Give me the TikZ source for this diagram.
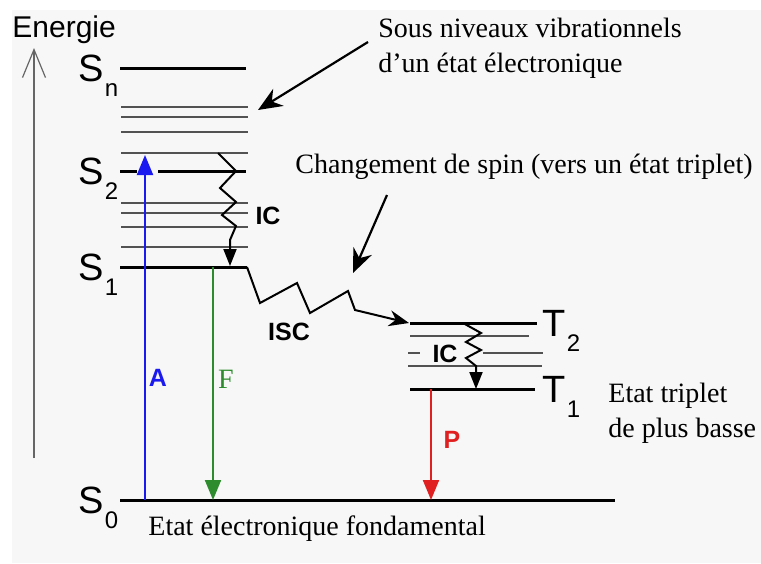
\documentclass[tikz,border=0pt]{standalone}
\usepackage{fontspec}
\setmainfont{Liberation Serif}
\setsansfont{Liberation Sans}
\usepackage{xcolor}
\usetikzlibrary{arrows.meta}
\definecolor{bgc}{HTML}{F7F7F7}
\definecolor{absblue}{HTML}{1A1AF0}
\definecolor{flgreen}{HTML}{2E8B2E}
\definecolor{phred}{HTML}{E02020}
\newcommand{\lvlname}[2]{#1\kern0.6pt\raisebox{-7.5pt}{\fontsize{12}{12}\selectfont #2}}

\begin{document}
\begin{tikzpicture}[
  x=0.5pt, y=-0.5pt,
  lvl/.style={line width=1.5pt, black},
  vib/.style={line width=1.35pt, black!68},
  lab/.style={font=\sffamily\fontsize{19}{19}\selectfont, inner sep=0pt, anchor=base west},
  trans/.style={-{Triangle[length=10pt,width=8pt]}, line width=1pt},
  wavy/.style={-{Triangle[length=8.5pt,width=6.5pt]}, line width=1pt},
  tag/.style={font=\sffamily\bfseries\fontsize{12.5}{12.5}\selectfont, inner sep=0pt},
  note/.style={font=\fontsize{14}{17.5}\selectfont, align=left, inner sep=0pt, anchor=base west},
  call/.style={-{Stealth[length=12pt,width=10pt]}, line width=1.1pt},
]
\useasboundingbox (0,0) rectangle (761,563);
\fill[bgc] (12,10) rectangle (761,563);

% energy axis
\node[font=\sffamily\fontsize{15}{15}\selectfont, inner sep=0pt, anchor=base west] (en) at (12,37) {Energie};
\coordinate (axbot) at (34,458); \coordinate (axtop) at (34,48);
\draw[black!60, line width=0.6pt, -{Straight Barb[length=14pt,width=11.5pt]}] (axbot) -- (axtop);

% singlet levels
\draw[lvl] (120,68) -- (246,68);
\foreach \y in {107,117,132,153,203,213,227,247} \draw[vib] (121,\y) -- (248,\y);
\draw[lvl] (120,171) -- (137,171); \draw[lvl] (158,171) -- (246,171);
\draw[lvl] (120,267) -- (247,267);
\draw[lvl] (120,500) -- (615,500);
\node[lab] (Sn) at (78,81)  {\lvlname{S}{n}};
\node[lab] (S2) at (78,184) {\lvlname{S}{2}};
\node[lab] (S1) at (78,280) {\lvlname{S}{1}};
\node[lab] (S0) at (78,513) {\lvlname{S}{0}};

% triplet levels
\draw[lvl] (410,323) -- (537,323);
\draw[vib] (410,336) -- (529,336);
\draw[vib] (408,353) -- (420,353); \draw[vib] (483,353) -- (543,353);
\draw[vib] (408,366) -- (542,366);
\draw[lvl] (410,389) -- (535,389);
\node[lab] (T2) at (542,336) {\lvlname{T}{2}};
\node[lab] (T1) at (542,402) {\lvlname{T}{1}};

% radiative transitions
\coordinate (a0) at (145,500); \coordinate (a1) at (145,155);
\coordinate (f1) at (213,267); \coordinate (f0) at (213,500);
\coordinate (p1) at (431,389); \coordinate (p0) at (431,500);
\draw[trans, absblue] (a0) -- (a1);
\draw[trans, flgreen] (f1) -- (f0);
\draw[trans, phred] (p1) -- (p0);
\node[tag, absblue] (lA) at (158,378) {A};
\node[font=\fontsize{14}{14}\selectfont, inner sep=0pt, flgreen] (lF) at (226,379) {F};
\node[tag, phred] (lP) at (452,440) {P};

% non radiative transitions
\coordinate (ic1) at (218,153); \coordinate (ic0) at (230,266);
\draw[wavy] (ic1) -- (236,171) -- (220,188) -- (236,202) -- (222,215) -- (236,226) -- (230,240) -- (ic0);
\node[tag] (lIC) at (268,216) {IC};
\coordinate (isc1) at (247,267); \coordinate (isc0) at (409,323);
\draw[wavy, -{Stealth[length=10pt,width=8pt]}] (isc1) -- (260,303) -- (297,283) -- (310,313) -- (348,291) -- (355,310) -- (isc0);
\node[tag] (lISC) at (289,332) {ISC};
\coordinate (ict1) at (463,323); \coordinate (ict0) at (476,389);
\draw[wavy] (ict1) -- (481,333) -- (466,342) -- (481,350) -- (466,358) -- (476,366) -- (ict0);
\node[tag] (lICT) at (445,354) {IC};

% annotations
\node[note] (vibtxt) at (378,72) {Sous niveaux vibrationnels\\d’un état électronique};
\coordinate (v0) at (368,42); \coordinate (v1) at (258,110);
\draw[call] (v0) -- (v1);
\node[note] (spintxt) at (295,173) {Changement de spin (vers un état triplet)};
\coordinate (c0) at (387,195); \coordinate (c1) at (353,273);
\draw[call] (c0) -- (c1);
\node[note] (triptxt) at (608,437) {Etat triplet\\de plus basse};
\node[note] (fondtxt) at (148,535) {Etat électronique fondamental};
\end{tikzpicture}
\end{document}
